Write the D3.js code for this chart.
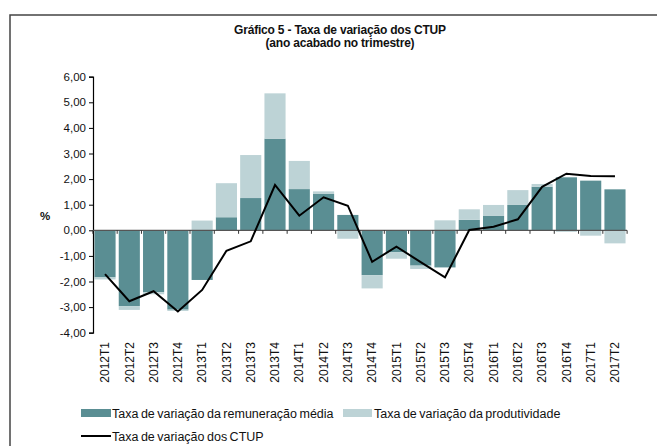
<!doctype html>
<html>
<head>
	<meta charset="UTF-8">
	<title>Gráfico 5 - Taxa de variação dos CTUP</title>
	<script src="https://d3js.org/d3.v7.min.js"></script>
	<style>
		body { margin: 0; background: #fff; }
		text { font-family: "Liberation Sans", Arial, sans-serif; }
	</style>
</head>
<body>
	<script>
		// data
		var quarters = ["2012T1", "2012T2", "2012T3", "2012T4", "2013T1", "2013T2", "2013T3", "2013T4",
			"2014T1", "2014T2", "2014T3", "2014T4", "2015T1", "2015T2", "2015T3", "2015T4",
			"2016T1", "2016T2", "2016T3", "2016T4", "2017T1", "2017T2"];
		var remuneracao = [-1.84, -2.96, -2.42, -3.10, -1.94, 0.51, 1.26, 3.58, 1.61, 1.42, 0.60, -1.75,
			-0.85, -1.38, -1.45, 0.41, 0.56, 0.99, 1.70, 2.07, 1.94, 1.60];
		var produtividade = [-0.08, -0.15, -0.08, -0.05, 0.38, 1.33, 1.68, 1.77, 1.10, 0.10, -0.33, -0.52,
			-0.26, -0.13, 0.39, 0.41, 0.43, 0.58, 0.11, -0.06, -0.21, -0.51];
		var ctup = [-1.71, -2.77, -2.38, -3.17, -2.33, -0.80, -0.43, 1.77, 0.57, 1.29, 0.96, -1.23,
			-0.64, -1.24, -1.84, 0.01, 0.14, 0.43, 1.70, 2.21, 2.12, 2.11];
		var yTicks = [-4, -3, -2, -1, 0, 1, 2, 3, 4, 5, 6];

		var width = 657, height = 446;
		var darkColor = "#5a8e93", lightColor = "#bdd3d6";

		var svg = d3.select("body").append("svg")
			.attr("width", width)
			.attr("height", height);

		// frame (left and top edges only are visible)
		svg.append("path")
			.attr("d", "M10," + height + "V15H" + width)
			.attr("fill", "none")
			.attr("stroke", "#444")
			.attr("stroke-width", 1.5);

		// title
		var title = svg.append("text")
			.attr("x", 340)
			.attr("y", 34)
			.attr("text-anchor", "middle")
			.attr("font-size", 12)
			.attr("font-weight", "bold")
			.attr("letter-spacing", -0.2)
			.attr("fill", "#111");
		title.append("tspan").attr("x", 340).text("Gráfico 5 - Taxa de variação dos CTUP");
		title.append("tspan").attr("x", 340).attr("dy", 13).text("(ano acabado no trimestre)");

		// scales
		var x = d3.scaleBand()
			.domain(quarters)
			.range([93, 627])
			.paddingInner(0.13)
			.paddingOuter(0.06);

		var y = d3.scaleLinear()
			.domain([-4, 6])
			.range([332.7, 76.7]);

		var fmt = d3.formatLocale({decimal: ",", thousands: ".", grouping: [3], currency: ["", "€"], minus: "-"}).format(".2f");

		// stacked bars, diverging like the spreadsheet does
		var table = quarters.map(function(q, i) {
			return {q: q, rem: remuneracao[i], prod: produtividade[i]};
		});
		var series = d3.stack()
			.keys(["rem", "prod"])
			.offset(d3.stackOffsetDiverging)(table);
		var colors = {rem: darkColor, prod: lightColor};

		svg.append("g").selectAll("g")
			.data(series)
			.enter().append("g")
				.attr("fill", function(s) { return colors[s.key]; })
			.selectAll("rect")
			.data(function(s) { return s; })
			.enter().append("rect")
				.attr("x", function(d) { return x(d.data.q); })
				.attr("width", x.bandwidth())
				.attr("y", function(d) { return y(Math.max(d[0], d[1])); })
				.attr("height", function(d) { return Math.abs(y(d[0]) - y(d[1])); });

		// y axis
		var yAxis = svg.append("g")
			.attr("transform", "translate(93,0)")
			.call(d3.axisLeft(y).tickValues(yTicks).tickSize(4).tickPadding(3).tickFormat(fmt));
		yAxis.select(".domain").attr("stroke", "#000").attr("stroke-width", 1.2);
		yAxis.selectAll(".tick line").attr("stroke", "#000");
		yAxis.selectAll("text").attr("font-size", 11.5).attr("fill", "#111")
			.attr("font-family", "'Liberation Sans', Arial, sans-serif");

		svg.append("text")
			.attr("x", 45)
			.attr("y", 220)
			.attr("text-anchor", "middle")
			.attr("font-size", 11.5)
			.attr("font-weight", "bold")
			.attr("fill", "#111")
			.text("%");

		// x axis along zero, ticks between categories
		var zero = y(0);
		svg.append("line")
			.attr("x1", 93).attr("x2", 627)
			.attr("y1", zero).attr("y2", zero)
			.attr("stroke", "#555")
			.attr("stroke-width", 1.3);
		var step = x.step();
		var bounds = d3.range(quarters.length + 1).map(function(i) { return x(quarters[0]) - x.paddingInner() * step / 2 + i * step; });
		svg.append("g").selectAll("line")
			.data(bounds)
			.enter().append("line")
				.attr("x1", function(d) { return d; })
				.attr("x2", function(d) { return d; })
				.attr("y1", zero)
				.attr("y2", zero + 3.5)
				.attr("stroke", "#333");

		// category labels, rotated
		svg.append("g").selectAll("text")
			.data(quarters)
			.enter().append("text")
				.attr("transform", function(d) {
					return "translate(" + (x(d) + x.bandwidth() / 2) + ",342) rotate(-90)";
				})
				.attr("text-anchor", "end")
				.attr("dy", "0.35em")
				.attr("font-size", 12)
				.attr("fill", "#111")
				.text(function(d) { return d; });

		// CTUP line
		var line = d3.line()
			.x(function(d, i) { return x(quarters[i]) + x.bandwidth() / 2; })
			.y(function(d) { return y(d); });
		svg.append("path")
			.datum(ctup)
			.attr("d", line)
			.attr("fill", "none")
			.attr("stroke", "#000")
			.attr("stroke-width", 2);

		// legend
		var legend = svg.append("g").attr("font-size", 12.5).attr("word-spacing", -1).attr("fill", "#111");
		legend.append("rect").attr("x", 81).attr("y", 409).attr("width", 30).attr("height", 8).attr("fill", darkColor);
		legend.append("text").attr("x", 112).attr("y", 418).text("Taxa de variação da remuneração média");
		legend.append("rect").attr("x", 343).attr("y", 409).attr("width", 29).attr("height", 8).attr("fill", lightColor);
		legend.append("text").attr("x", 374).attr("y", 418).text("Taxa de variação da produtividade");
		legend.append("line").attr("x1", 81).attr("x2", 111).attr("y1", 436).attr("y2", 436)
			.attr("stroke", "#000").attr("stroke-width", 2);
		legend.append("text").attr("x", 112).attr("y", 441).text("Taxa de variação dos CTUP");
	</script>
</body>
</html>
